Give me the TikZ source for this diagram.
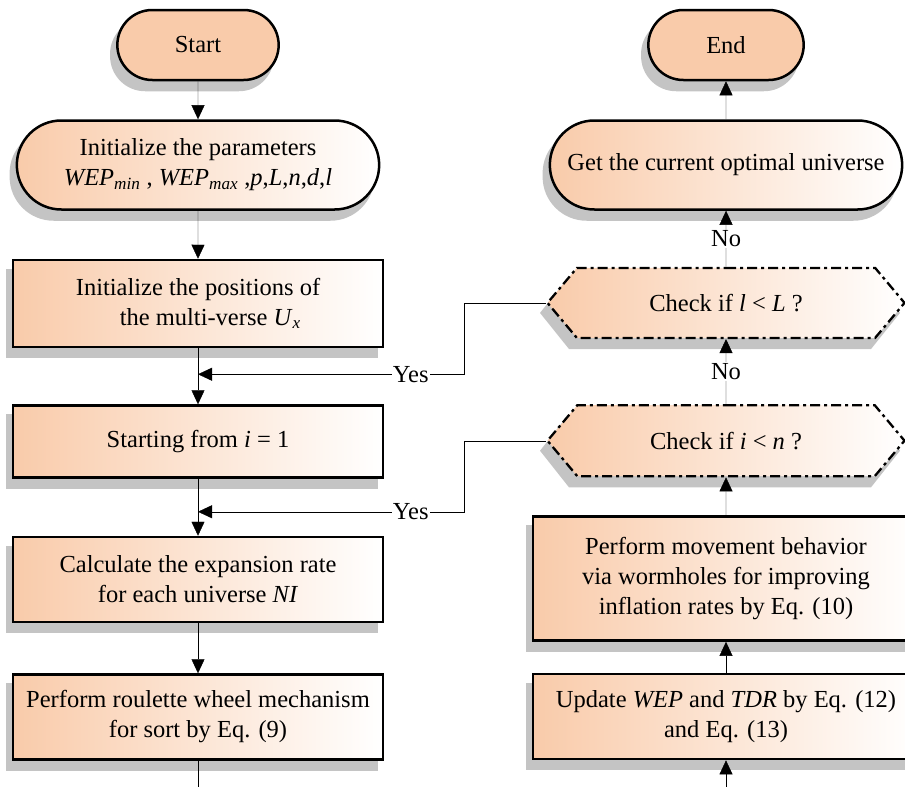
\documentclass[tikz,border=0pt]{standalone}
\usepackage{fontspec}
\setmainfont{Liberation Serif}
\usepackage{xcolor}
\usetikzlibrary{positioning,arrows.meta,shapes.misc,shapes.symbols,backgrounds}
\definecolor{peach}{RGB}{249,203,170}
\definecolor{shadowgray}{RGB}{196,196,196}
\tikzset{
	fade/.style={left color=peach,middle color=peach!22,right color=white},
	terminal/.style={rounded rectangle,draw,line width=2.5pt,fill=peach,minimum width=168pt,minimum height=70pt},
	roundbox/.style={rounded rectangle,draw,line width=2.5pt,fade,minimum height=89pt,align=center},
	procbox/.style={rectangle,draw,line width=2.5pt,fade,minimum width=370pt,align=center},
	checkbox/.style={signal,signal to=west and east,signal pointer angle=100,draw,line width=2.3pt,
		dash pattern=on 10pt off 4pt on 3pt off 4pt,fade,minimum width=357pt,minimum height=70pt},
	tag/.style={fill=white,inner sep=1pt}
}

\begin{document}
\begin{tikzpicture}[x=1pt,y=1pt,>={Triangle[length=14pt,width=13pt]},line width=1.7pt,node distance=40pt,font=\fontsize{24.5}{30}\selectfont]
	\clip (0,0) rectangle (905,-787);
	% left column
	\node[terminal] (start) at (198,-45) {Start};
	\node[roundbox,minimum width=369pt] (init) [below=38pt of start] {Initialize the parameters\\
		\textit{WEP}\textsubscript{\textit{min}} , \textit{WEP}\textsubscript{\textit{max}} ,\textit{p},\textit{L},\textit{n},\textit{d},\textit{l}};
	\node[procbox,minimum height=87pt] (pos) [below=48pt of init] {Initialize the positions of\\ \hspace{1em}the multi-verse \textit{U}\textsubscript{\textit{x}}};
	\node[procbox,minimum height=72pt] (first) [below=56pt of pos] {Starting from \textit{i} = 1};
	\node[procbox,minimum height=85pt] (calc) [below=57pt of first] {Calculate the expansion rate\\ for each universe \textit{NI}};
	\node[procbox,minimum height=85pt] (roul) [below=50pt of calc] {Perform roulette wheel mechanism\\ for sort by Eq. (9)};
	\coordinate[below=26pt of pos] (yes1);
	\coordinate[below=33pt of first] (yes2);
	
	% right column
	\node[terminal,minimum width=162pt] (end) at (726,-45) {End};
	\node[roundbox,minimum width=359pt] (get) [below=38pt of end] {Get the current optimal universe};
	\node[checkbox] (chkL) [below=56pt of get] {Check if \textit{l} < \textit{L} ?};
	\node[checkbox,minimum height=71pt] (chkN) [below=65pt of chkL] {Check if \textit{i} < \textit{n} ?};
	\node[procbox,minimum width=386pt,minimum height=124pt] (move) [below=38pt of chkN] {Perform movement behavior\\ via wormholes for improving\\ inflation rates by Eq. (10)};
	\node[procbox,minimum width=386pt,minimum height=85pt] (upd) [below=31pt of move] {Update \textit{WEP} and \textit{TDR} by Eq. (12)\\ and Eq. (13)};
	
	% shadows
	\begin{pgfonlayer}{background}
		\foreach \n in {pos,first,calc,roul,move,upd}
			\fill[shadowgray] ([shift={(-6,-10)}]\n.south west) rectangle ([shift={(-6,-10)}]\n.north east);
		\foreach \n/\r in {start/35,end/35,init/44,get/44}
			\fill[shadowgray,rounded corners=\r pt] ([shift={(-6,-10)}]\n.west |- \n.south) rectangle ([shift={(-6,-10)}]\n.east |- \n.north);
		\foreach \n in {chkL,chkN}
			\fill[shadowgray] ([shift={(-6,-10)}]\n.west) -- ([shift={(23,-10)}]\n.west |- \n.south) -- ([shift={(-35,-10)}]\n.east |- \n.south)
				-- ([shift={(-6,-10)}]\n.east) -- ([shift={(-35,-10)}]\n.east |- \n.north) -- ([shift={(23,-10)}]\n.west |- \n.north) -- cycle;
	\end{pgfonlayer}
	
	\draw[->] (start) -- (init);
	\draw[->] (init) -- (pos);
	\draw[->] (pos) -- (first);
	\draw[->] (first) -- (calc);
	\draw[->] (calc) -- (roul);
	\draw[->] (roul.south) -- ++(0,-38) -| (upd.south);
	\draw[->] (upd) -- (move);
	\draw[->] (move) -- (chkN);
	\draw[->] (chkN) -- node[tag] {No} (chkL);
	\draw[->] (chkL) -- node[tag] {No} (get);
	\draw[->] (get) -- (end);
	\draw[->] (chkL.west) -- ++(-82,0) |- node[tag,pos=0.6] {Yes} (yes1);
	\draw[->] (chkN.west) -- ++(-82,0) |- node[tag,pos=0.6] {Yes} (yes2);
\end{tikzpicture}
\end{document}
